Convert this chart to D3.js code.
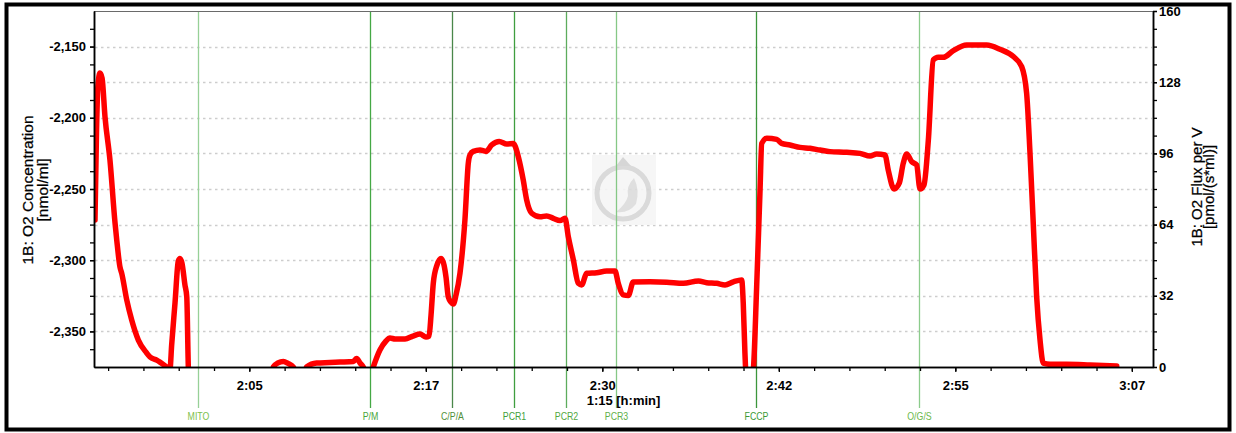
<!DOCTYPE html>
<html>
<head>
<meta charset="utf-8">
<script src="https://cdn.jsdelivr.net/npm/d3@7/dist/d3.min.js"></script>
<style>
  html, body { margin: 0; padding: 0; background: #fff; }
  svg { display: block; font-family: "Liberation Sans", Arial, sans-serif; }
</style>
</head>
<body>
<svg id="chart" width="1236" height="433"></svg>
<script>
// Time axis (minutes since start of day, shown as h:mm)
const timeDomain = [114, 189];
const timeTicks = [125, 137.5, 150, 162.5, 175, 187.5];
const timeTickLabels = ["2:05", "2:17", "2:30", "2:42", "2:55", "3:07"];
const timeSpanLabel = "1:15 [h:min]";

// Left axis: O2 concentration
const concDomain = [-2375, -2125];
const concTicks = [-2150, -2200, -2250, -2300, -2350];
const concTickLabels = ["-2,150", "-2,200", "-2,250", "-2,300", "-2,350"];
const concGrid = [-2150, -2175, -2200, -2225, -2250, -2275, -2300, -2325, -2350];

// Right axis: O2 flux per volume
const fluxDomain = [0, 160];
const fluxTicks = [0, 32, 64, 96, 128, 160];

// Titration events
const eventNames = ["MITO", "P/M", "C/P/A", "PCR1", "PCR2", "PCR3", "FCCP", "O/G/S"];
const eventTimes = [121.39, 133.55, 139.33, 143.77, 147.41, 150.95, 160.88, 172.43];
const eventColors = ["#97d097", "#45a845", "#4a874a", "#3f9e3f", "#5dac5d", "#86c886", "#3c963c", "#8ccc8c"];
const eventLabelColors = ["#7cbf4c", "#4aa63a", "#4f8f3a", "#42a03a", "#52a83e", "#5fb04a", "#3a9a36", "#6cb84a"];

// O2 flux trace: time (min)
const fluxTime = [
  114.07, 114.18, 114.28, 114.42, 114.57, 114.78, 115.13, 115.49, 115.61, 115.84,
  115.96, 116.32, 116.67, 117.14, 117.73, 117.97, 118.44, 118.67, 119.15, 119.38,
  119.50, 119.74, 119.97, 120.09, 120.23, 120.44, 120.57, 120.68, 120.73, 126.60,
  126.70, 127.03, 127.41, 127.74, 128.11, 128.38, 128.87, 129.06, 129.77, 130.71,
  131.42, 132.36, 132.60, 132.84, 133.07, 133.26, 133.62, 133.78, 134.25, 134.68,
  134.96, 135.32, 136.03, 136.59, 137.09, 137.51, 137.73, 137.87, 138.03, 138.29,
  138.58, 138.79, 138.93, 139.09, 139.28, 139.45, 139.64, 139.92, 140.27, 140.51,
  140.63, 140.86, 141.34, 141.76, 142.17, 142.70, 143.23, 143.70, 143.82, 144.05,
  144.40, 144.64, 145.00, 145.59, 146.06, 146.53, 147.00, 147.36, 147.59, 147.95,
  148.30, 148.54, 148.89, 149.60, 150.31, 150.90, 151.13, 151.49, 151.84, 152.19,
  153.38, 154.56, 155.74, 156.81, 157.39, 158.10, 158.69, 159.28, 159.87, 159.98,
  160.10, 160.21, 160.60, 160.71, 160.93, 161.17, 161.29, 161.65, 162.35, 162.70,
  163.29, 164.00, 164.71, 165.42, 166.12, 167.31, 168.25, 168.96, 169.43, 170.02,
  170.25, 170.66, 171.03, 171.31, 171.56, 171.91, 172.26, 172.50, 172.78, 173.09,
  173.44, 173.79, 174.15, 174.86, 175.80, 177.22, 178.16, 179.11, 179.70, 180.05,
  180.29, 180.52, 180.76, 181.00, 181.23, 181.71, 182.89, 184.54, 186.43
];
// O2 flux trace: pmol/(s*ml)
const fluxValue = [
  66.1, 106.5, 126.7, 132.1, 129.9, 112.4, 93.0, 64.7, 57.1, 44.9,
  42.2, 30.1, 21.1, 12.1, 6.3, 4.5, 3.1, 2.2, 0.0, -1.0,
  9.9, 29.0, 47.6, 48.8, 46.7, 36.9, 31.5, 0.0, -8.0, -8.0,
  0.0, 1.8, 2.5, 1.6, 0.0, -3.0, -3.0, 0.0, 1.8, 2.0,
  2.2, 2.5, 3.8, 1.8, 0.0, -3.0, -3.0, 0.0, 7.6, 11.7,
  13.0, 12.6, 12.6, 13.9, 14.8, 13.5, 13.9, 23.4, 37.7, 45.8,
  48.8, 45.8, 40.4, 31.5, 29.2, 28.3, 32.4, 42.2, 66.1, 91.7,
  95.3, 96.9, 97.5, 96.9, 99.8, 101.3, 100.2, 100.4, 99.3, 94.5,
  84.0, 75.1, 69.1, 67.5, 67.9, 66.8, 65.8, 66.8, 58.6, 48.1,
  37.6, 36.9, 42.1, 42.4, 43.1, 43.1, 37.6, 32.4, 32.1, 38.2,
  38.3, 38.1, 37.6, 38.7, 37.9, 37.6, 36.9, 38.3, 39.1, 28.8,
  6.3, -6.0, -6.0, 0.0, 36.0, 79.5, 100.5, 102.8, 102.3, 100.5,
  99.8, 98.7, 98.3, 97.5, 96.8, 96.5, 96.0, 94.8, 95.7, 95.3,
  88.5, 80.0, 82.6, 91.5, 95.7, 92.3, 90.8, 80.0, 81.8, 102.0,
  138.0, 139.2, 139.2, 142.2, 144.7, 144.7, 142.8, 139.5, 135.0, 123.0,
  96.0, 64.6, 31.6, 12.1, 1.7, 1.2, 1.2, 0.9, 0.45
];

const svg = d3.select("#chart");
const plot = { left: 94, right: 1153, top: 11, bottom: 367 };

const x = d3.scaleLinear().domain(timeDomain).range([plot.left, plot.right]);
const yConc = d3.scaleLinear().domain(concDomain).range([plot.bottom, plot.top]);
const yFlux = d3.scaleLinear().domain(fluxDomain).range([plot.bottom, plot.top]);

// Plot background
svg.append("rect")
  .attr("x", plot.left).attr("y", plot.top)
  .attr("width", plot.right - plot.left).attr("height", plot.bottom - plot.top)
  .attr("fill", "#fff");

// Dashed horizontal grid
svg.append("g").selectAll("line").data(concGrid).join("line")
  .attr("x1", plot.left + 1).attr("x2", plot.right - 1)
  .attr("y1", d => Math.round(yConc(d)) + 0.5).attr("y2", d => Math.round(yConc(d)) + 0.5)
  .attr("stroke", "#cdcdcd").attr("stroke-width", 1.3)
  .attr("stroke-dasharray", "2.5,3.5");

// Watermark logo
const logo = svg.append("g").attr("opacity", 0.9);
logo.append("rect").attr("x", 592).attr("y", 155).attr("width", 64).attr("height", 70).attr("fill", "#f6f6f6");
logo.append("circle").attr("cx", 623).attr("cy", 193).attr("r", 26)
  .attr("fill", "none").attr("stroke", "#d6d6d6").attr("stroke-width", 5);
logo.append("path").attr("d", "M616,166 L623,157 L631,166 Z").attr("fill", "#d2d2d2");
logo.append("path").attr("d", "M634,178 Q640,190 636,204 Q628,214 616,212 Q626,204 628,196 Q626,186 634,178 Z")
  .attr("fill", "#dcdcdc");

// Event lines and labels
const ev = svg.append("g");
eventNames.forEach((name, i) => {
  const px = Math.round(x(eventTimes[i])) + 0.5;
  ev.append("line")
    .attr("x1", px).attr("x2", px).attr("y1", plot.top).attr("y2", 408)
    .attr("stroke", eventColors[i]).attr("stroke-width", 1.3);
  ev.append("text")
    .attr("transform", `translate(${px},420) scale(0.8,1)`)
    .attr("text-anchor", "middle")
    .attr("font-size", 11)
    .attr("fill", eventLabelColors[i])
    .text(name);
});

// Flux trace
svg.append("clipPath").attr("id", "plotClip")
  .append("rect").attr("x", plot.left).attr("y", plot.top - 3)
  .attr("width", plot.right - plot.left).attr("height", plot.bottom - plot.top + 3);

const trace = fluxTime.map((t, i) => [t, fluxValue[i]]);
const line = d3.line().x(d => x(d[0])).y(d => yFlux(d[1])).curve(d3.curveMonotoneX);
svg.append("path")
  .attr("clip-path", "url(#plotClip)")
  .attr("d", line(trace))
  .attr("fill", "none")
  .attr("stroke", "#ff0000")
  .attr("stroke-width", 5.5)
  .attr("stroke-linejoin", "round")
  .attr("stroke-linecap", "round");

// Plot frame (top edge)
svg.append("line")
  .attr("x1", plot.left).attr("x2", plot.right)
  .attr("y1", plot.top + 0.5).attr("y2", plot.top + 0.5)
  .attr("stroke", "#6a6a6a").attr("stroke-width", 1);

function styleAxis(g) {
  g.select(".domain").attr("stroke", "#000").attr("stroke-width", 1.5);
  g.selectAll(".tick line").attr("stroke", "#000").attr("stroke-width", 1.3);
  g.selectAll(".tick text")
    .attr("font-family", "'Liberation Sans', Arial, sans-serif")
    .attr("font-size", 13).attr("font-weight", "bold").attr("fill", "#000");
}

// Bottom axis (minor then major ticks)
svg.append("g").attr("transform", `translate(0,${plot.bottom})`)
  .call(d3.axisBottom(x).tickValues(d3.range(115, 189, 2.5)).tickSize(4).tickSizeOuter(0).tickFormat(""))
  .call(styleAxis);
svg.append("g").attr("transform", `translate(0,${plot.bottom})`)
  .call(d3.axisBottom(x).tickValues(timeTicks).tickSize(5).tickSizeOuter(0).tickPadding(9)
    .tickFormat((d, i) => timeTickLabels[i]))
  .call(styleAxis);

svg.append("text")
  .attr("x", (plot.left + plot.right) / 2).attr("y", 405)
  .attr("text-anchor", "middle")
  .attr("font-size", 13).attr("font-weight", "bold")
  .text(timeSpanLabel);

// Left axis
svg.append("g").attr("transform", `translate(${plot.left},0)`)
  .call(d3.axisLeft(yConc).tickValues(d3.range(-2362.5, -2125, 12.5)).tickSize(4).tickSizeOuter(0).tickFormat(""))
  .call(styleAxis);
svg.append("g").attr("transform", `translate(${plot.left},0)`)
  .call(d3.axisLeft(yConc).tickValues(concTicks).tickSize(4).tickSizeOuter(0).tickPadding(4)
    .tickFormat((d, i) => concTickLabels[i]))
  .call(styleAxis);

// Right axis
svg.append("g").attr("transform", `translate(${plot.right},0)`)
  .call(d3.axisRight(yFlux).tickValues(d3.range(0, 161, 8)).tickSize(4).tickSizeOuter(0).tickFormat(""))
  .call(styleAxis);
svg.append("g").attr("transform", `translate(${plot.right},0)`)
  .call(d3.axisRight(yFlux).tickValues(fluxTicks).tickSize(4).tickSizeOuter(0).tickPadding(2))
  .call(styleAxis);

// Axis titles
const leftTitle = svg.append("text")
  .attr("transform", `translate(33,190) rotate(-90)`)
  .attr("text-anchor", "middle").attr("font-size", 15.5).attr("fill", "#000")
  .attr("stroke", "#000").attr("stroke-width", 0.25);
leftTitle.append("tspan").attr("x", 0).attr("dy", 0).text("1B: O2 Concentration");
leftTitle.append("tspan").attr("x", 0).attr("dy", 14.5).text("[nmol/ml]");

const rightTitle = svg.append("text")
  .attr("transform", `translate(1202,187) rotate(-90)`)
  .attr("text-anchor", "middle").attr("font-size", 15).attr("fill", "#000")
  .attr("stroke", "#000").attr("stroke-width", 0.25);
rightTitle.append("tspan").attr("x", 0).attr("dy", 0).text("1B: O2 Flux per V");
rightTitle.append("tspan").attr("x", 0).attr("dy", 12).text("[pmol/(s*ml)]");

// Outer frame
svg.append("rect")
  .attr("x", 6.5).attr("y", 4.5).attr("width", 1223).attr("height", 425)
  .attr("fill", "none").attr("stroke", "#000").attr("stroke-width", 4);
</script>
</body>
</html>
